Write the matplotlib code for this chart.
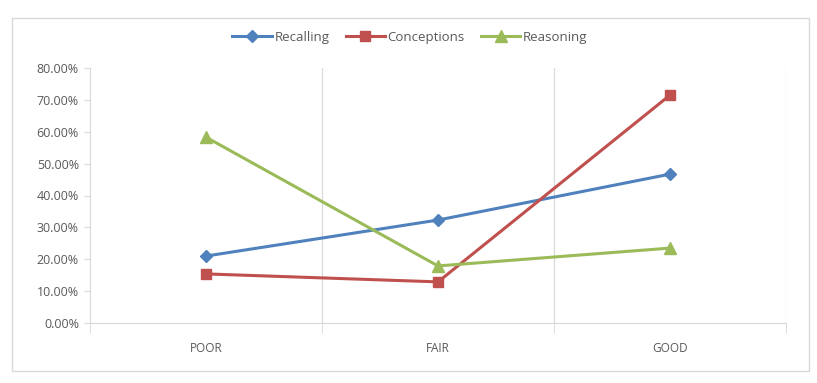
import matplotlib
matplotlib.use("Agg")
import matplotlib.pyplot as plt
from matplotlib.patches import Rectangle
from matplotlib.ticker import FuncFormatter

categories = ["POOR", "FAIR", "GOOD"]
recalling = [21.0, 32.3, 46.7]
conceptions = [15.4, 12.9, 71.5]
reasoning = [58.3, 17.9, 23.5]

plt.rcParams['font.family'] = ['Open Sans', 'DejaVu Sans']
txt = '#595959'
grid = '#d9d9d9'

fig = plt.figure(figsize=(8.17, 3.83), dpi=100)
fig.patches.append(Rectangle((12/817, 12/383), 797/817, 353/383, transform=fig.transFigure,
                             fill=False, edgecolor=grid, linewidth=1))
ax = fig.add_axes([90/817, 60/383, 696/817, 255/383])

x = range(len(categories))
ax.plot(x, recalling, color='#4F81BD', lw=2.2, marker='D', ms=6, label='Recalling')
ax.plot(x, conceptions, color='#C0504D', lw=2.2, marker='s', ms=7.5, label='Conceptions')
ax.plot(x, reasoning, color='#9BBB59', lw=2.2, marker='^', ms=8, label='Reasoning')

ax.set_xlim(-0.5, 2.5)
ax.set_ylim(0, 80)
ax.set_yticks(range(0, 81, 10))
ax.yaxis.set_major_formatter(FuncFormatter(lambda v, p: f"{v:.2f}%"))
ax.set_xticks(list(x))
ax.set_xticklabels(categories)
ax.set_xticks([-0.5, 0.5, 1.5, 2.5], minor=True)
for b in [0.5, 1.5, 2.5]:
    ax.axvline(b, color=grid, lw=0.9, zorder=0)

for s in ['top', 'right']:
    ax.spines[s].set_visible(False)
for s in ['left', 'bottom']:
    ax.spines[s].set_color(grid)
ax.tick_params(axis='y', colors=grid, labelcolor=txt, labelsize=9, length=4, pad=4)
ax.tick_params(axis='x', which='major', length=0, labelcolor=txt, labelsize=8.5, pad=14)
ax.tick_params(axis='x', which='minor', colors=grid, length=7)
for lab in ax.get_xticklabels():
    lab.set_fontstretch('expanded')

fig.legend(loc='center', bbox_to_anchor=(410/817, 1 - 37/383), ncol=3, frameon=False,
           fontsize=9.5, labelcolor=txt, handlelength=3, columnspacing=1.2, handletextpad=0.2)

fig.savefig('out.png', dpi=100)
